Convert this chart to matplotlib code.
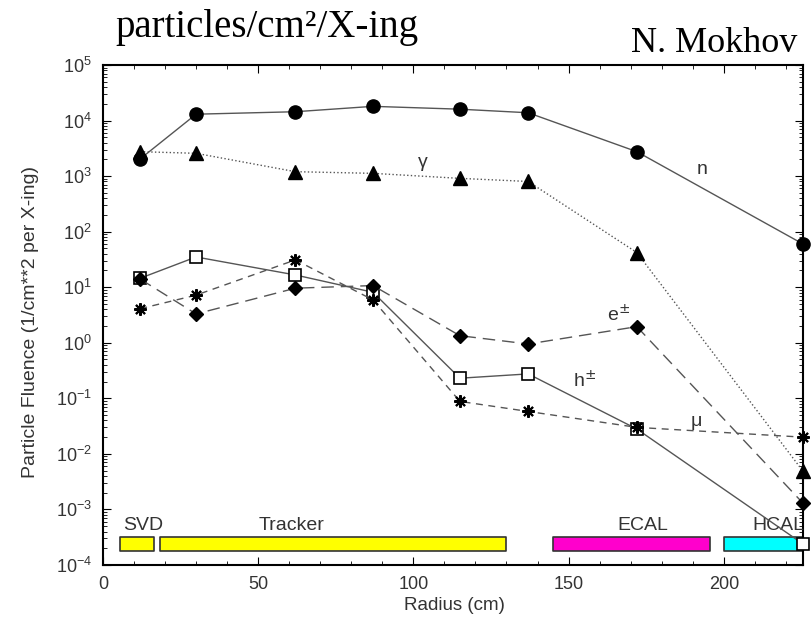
import matplotlib
matplotlib.use("Agg")
import matplotlib.pyplot as plt
from matplotlib.ticker import LogLocator, MultipleLocator, NullFormatter

# radius (cm) of the sample points
radius = [12, 30, 62, 87, 115, 137, 172, 225.5]

# particle fluence per series
neutrons = [2040, 13000, 14400, 18000, 16000, 13800, 2750, 60]
gammas = [2750, 2570, 1200, 1120, 910, 800, 42, 0.0049]
hadrons = [14.5, 35, 16.6, 8.1, 0.23, 0.275, 0.028, 0.00024]
electrons = [14, 3.3, 9.6, 10.7, 1.34, 0.95, 1.95, 0.0013]
muons = [4.1, 7.2, 31, 5.9, 0.088, 0.058, 0.03, 0.02]

# detector regions: name, start, end, colour
detectors = ["SVD", "Tracker", "ECAL", "HCAL"]
det_start = [5.5, 18.4, 145, 200]
det_end = [16.5, 130, 195.5, 225.4]
det_color = ["#ffff00", "#ffff00", "#ff00cc", "#00ffff"]
det_label_x = [12.8, 60.7, 174, 217.5]

y_ticks = [1e-4, 1e-3, 1e-2, 1e-1, 1e0, 1e1, 1e2, 1e3, 1e4, 1e5]

plt.rcParams['font.family'] = ['Liberation Sans', 'DejaVu Sans']

fig = plt.figure(figsize=(8.12, 6.17), dpi=100)
ax = fig.add_axes([0.1268, 0.0843, 0.862, 0.8104])

gray = '#555555'
ax.plot(radius, neutrons, color=gray, lw=1, ls='-', marker='o', ms=9.5,
        mfc='black', mec='black', clip_on=False, zorder=4)
ax.plot(radius, gammas, color=gray, lw=1, ls=':', marker='^', ms=9.5,
        mfc='black', mec='black', clip_on=False, zorder=4)
ax.plot(radius, hadrons, color=gray, lw=1, ls='-', marker='s', ms=8.5,
        mfc='white', mec='black', mew=1.2, clip_on=False, zorder=4)
ax.plot(radius, electrons, color=gray, lw=1, ls=(0, (9, 5)), marker='D', ms=7,
        mfc='black', mec='black', clip_on=False, zorder=5)
ax.plot(radius, muons, color=gray, lw=1, ls=(0, (5, 4)), marker=(8, 2, 0), ms=9,
        mec='black', mew=1.5, clip_on=False, zorder=5)

# detector bars
bar_lo, bar_hi = 1.75e-4, 3.2e-4
for name, s, e, c, lx in zip(detectors, det_start, det_end, det_color, det_label_x):
    ax.fill_between([s, e], bar_lo, bar_hi, facecolor=c, edgecolor='#333333',
                    lw=1.2, zorder=2)
    ax.text(lx, 5.2e-4, name, ha='center', va='center', fontsize=14, color='#333333')

# curve labels
lab = dict(ha='center', va='center', color='#333333', fontsize=14)
ax.text(103, 1740, '\u03b3', **lab)
ax.text(193, 1320, 'n', **lab)
ax.text(166, 3.2, 'e$^{\\pm}$', **lab)
ax.text(155, 0.21, 'h$^{\\pm}$', **lab)
ax.text(191, 0.039, '\u03bc', **lab)

ax.set_yscale('log')
ax.set_xlim(0, 225.5)
ax.set_ylim(1e-4, 1e5)
ax.xaxis.set_major_locator(MultipleLocator(50))
ax.xaxis.set_minor_locator(MultipleLocator(10))
ax.set_yticks(y_ticks)
ax.yaxis.set_minor_locator(LogLocator(base=10, subs=range(2, 10), numticks=20))
ax.yaxis.set_minor_formatter(NullFormatter())
ax.tick_params(which='both', direction='in', top=True, right=True, color='black',
               labelcolor='#333333', labelsize=13)
ax.tick_params(which='major', length=6)
ax.tick_params(which='minor', length=3)
ax.tick_params(axis='y', pad=8)
ax.tick_params(axis='x', pad=8)
for sp in ax.spines.values():
    sp.set_linewidth(1.5)
    sp.set_color('black')

fig.text(454 / 812, 1 - 606 / 617, 'Radius (cm)', fontsize=13.5, color='#333333',
         ha='center', va='center')
fig.text(31 / 812, 1 - 322 / 617, 'Particle Fluence (1/cm**2 per X-ing)',
         fontsize=14, color='#333333', rotation=90, ha='center', va='center')

fig.text(0.1416, 0.940, 'particles/cm\u00b2/X-ing', family='Liberation Serif',
         fontsize=28, ha='left', va='baseline')
fig.text(0.9815, 0.9157, 'N. Mokhov', family='Liberation Serif',
         fontsize=26, ha='right', va='baseline')

fig.savefig('out.png', dpi=100)
